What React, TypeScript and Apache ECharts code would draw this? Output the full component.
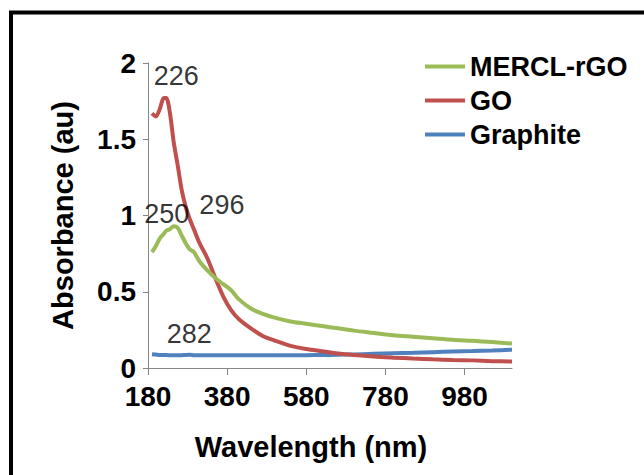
import React, { useEffect, useRef } from "react";
import * as echarts from "echarts";

const wavelengths = [190, 200, 210, 220, 226, 235, 245, 255, 265, 275, 285, 296, 310, 330, 350, 370, 390, 410, 440, 470, 500, 540, 580, 620, 660, 700, 750, 800, 850, 900, 950, 1000, 1050, 1100];
const mercl = [0.76, 0.8, 0.85, 0.88, 0.9, 0.91, 0.93, 0.92, 0.87, 0.82, 0.78, 0.76, 0.7, 0.64, 0.59, 0.55, 0.51, 0.45, 0.39, 0.355, 0.33, 0.305, 0.29, 0.275, 0.26, 0.245, 0.23, 0.215, 0.205, 0.195, 0.185, 0.178, 0.17, 0.16];
const go = [1.67, 1.65, 1.7, 1.77, 1.77, 1.68, 1.48, 1.33, 1.17, 1.06, 0.98, 0.91, 0.82, 0.72, 0.59, 0.47, 0.38, 0.32, 0.26, 0.21, 0.18, 0.145, 0.125, 0.11, 0.095, 0.085, 0.075, 0.068, 0.062, 0.057, 0.053, 0.05, 0.045, 0.042];
const graphite = [0.09, 0.088, 0.086, 0.085, 0.085, 0.084, 0.083, 0.083, 0.084, 0.086, 0.087, 0.084, 0.083, 0.083, 0.083, 0.083, 0.083, 0.083, 0.083, 0.083, 0.083, 0.083, 0.084, 0.085, 0.087, 0.089, 0.093, 0.097, 0.1, 0.104, 0.108, 0.111, 0.115, 0.12];

const seriesNames = ["MERCL-rGO", "GO", "Graphite"];
const seriesColors = ["#9BBB59", "#C0504D", "#4F81BD"];

const xTicks = [180, 380, 580, 780, 980];
const peakWavelengths = [226, 250, 296, 282];
const peakValues = [1.77, 0.93, 0.91, 0.088];
const peakOffsets = [[10, -22], [-9, -12], [28, -24], [1, -21]];

const FONT = '"Liberation Sans", Arial, sans-serif';

export default function App() {
  const ref = useRef<HTMLDivElement>(null);
  useEffect(() => {
    if (!ref.current) return;
    const chart = echarts.init(ref.current, undefined, { renderer: "svg" });
    const valueSets = [mercl, go, graphite];
    const lineSeries = seriesNames.map((name, i) => ({
      name,
      type: "line",
      data: wavelengths.map((w, j) => [w, valueSets[i][j]]),
      showSymbol: false,
      smooth: 0.3,
      lineStyle: { color: seriesColors[i], width: 4 },
      itemStyle: { color: seriesColors[i] },
      z: 3 - i,
    }));
    const labelStyle = {
      show: true,
      position: "inside",
      color: "#000000",
      fontSize: 27,
      fontWeight: "normal",
      fontFamily: FONT,
      textBorderWidth: 0,
    };
    const annotations = {
      name: "peaks",
      type: "scatter",
      symbolSize: 0,
      silent: true,
      data: peakWavelengths.map((w, i) => ({
        value: [w, peakValues[i]],
        name: String(w),
        label: { ...labelStyle, offset: peakOffsets[i] },
      })),
      label: { ...labelStyle, formatter: (p: any) => p.name },
      z: 10,
    };
    chart.setOption({
      animation: false,
      backgroundColor: "#fff",
      textStyle: { fontFamily: FONT },
      grid: { left: 148, right: 132, top: 63, bottom: 107, containLabel: false },
      legend: {
        data: seriesNames,
        orient: "vertical",
        left: 420,
        top: 48,
        itemWidth: 40,
        itemHeight: 4,
        itemGap: 7,
        icon: "rect",
        textStyle: { fontSize: 27, fontWeight: "bold", color: "#000", fontFamily: FONT },
      },
      xAxis: {
        type: "value",
        min: 180,
        max: 1100,
        interval: 200,
        name: "Wavelength (nm)",
        nameLocation: "middle",
        nameGap: 64,
        nameTextStyle: { fontSize: 29, fontWeight: "bold", color: "#000", fontFamily: FONT, padding: [0, 38, 0, 0] },
        axisLine: { lineStyle: { color: "#868686", width: 1 } },
        axisTick: { show: true, length: 7, lineStyle: { color: "#868686" }, customValues: xTicks },
        axisLabel: { fontSize: 28, fontWeight: "bold", color: "#000", margin: 14, customValues: xTicks, fontFamily: FONT },
        splitLine: { show: false },
      },
      yAxis: {
        type: "value",
        min: 0,
        max: 2,
        interval: 0.5,
        name: "Absorbance (au)",
        nameLocation: "middle",
        nameGap: 71,
        nameTextStyle: { fontSize: 29, fontWeight: "bold", color: "#000", fontFamily: FONT },
        axisLine: { show: true, lineStyle: { color: "#868686", width: 1 } },
        axisTick: { show: true, length: 5, lineStyle: { color: "#868686" } },
        axisLabel: { fontSize: 28, fontWeight: "bold", color: "#000", margin: 12, fontFamily: FONT },
        splitLine: { show: false },
      },
      graphic: [
        {
          type: "rect",
          shape: { x: 11, y: 12.5, width: 800, height: 700 },
          style: { fill: "none", stroke: "#000", lineWidth: 4 },
          silent: true,
          z: 100,
        },
      ],
      series: [...lineSeries, annotations],
    });
    return () => chart.dispose();
  }, []);
  return (
    <div
      ref={ref}
      style={{ position: "fixed", left: 0, top: 0, width: 644, height: 475, background: "#fff" }}
    />
  );
}
